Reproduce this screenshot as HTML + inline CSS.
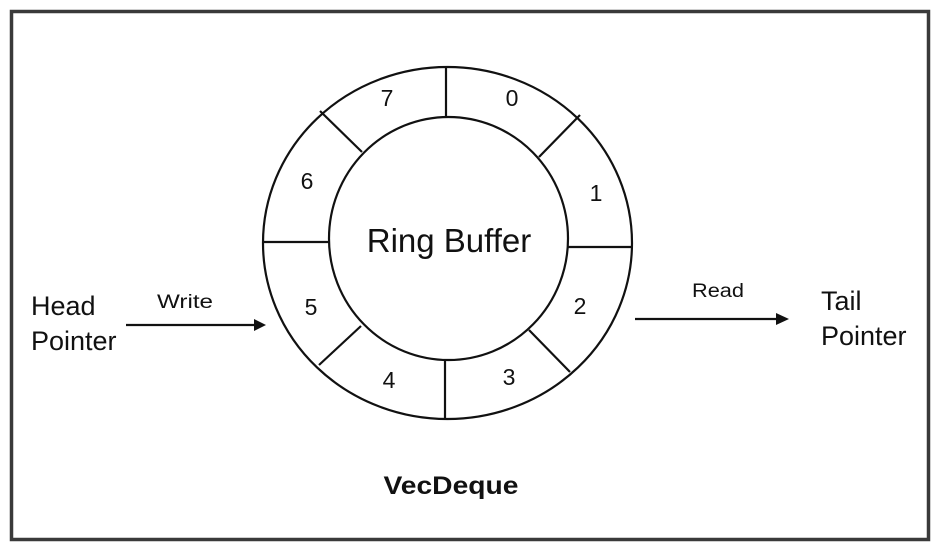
<!DOCTYPE html>
<html><head><meta charset="utf-8"><style>
html,body{margin:0;padding:0;background:#fff;}
svg{display:block;}
text{font-family:"Liberation Sans",Arial,sans-serif;fill:#111;}
</style></head><body>
<svg width="937" height="548" viewBox="0 0 937 548" xmlns="http://www.w3.org/2000/svg">
<rect x="11.5" y="11.5" width="917" height="528" fill="#fff" stroke="#3a3a3a" stroke-width="3.5"/>
<g fill="none" stroke="#111" stroke-width="2.2">
<ellipse cx="447.5" cy="243" rx="184.5" ry="176"/>
<ellipse cx="448.5" cy="238.5" rx="119.5" ry="121.5"/>
<line x1="446" y1="67" x2="446" y2="117"/>
<line x1="445" y1="360" x2="445" y2="419"/>
<line x1="263" y1="242" x2="329" y2="242"/>
<line x1="568" y1="247" x2="632" y2="247"/>
<line x1="320" y1="111" x2="362" y2="152"/>
<line x1="580" y1="115" x2="539" y2="157"/>
<line x1="319" y1="365" x2="361" y2="326"/>
<line x1="570" y1="372" x2="529" y2="330"/>
<line x1="126" y1="325" x2="256" y2="325"/>
<line x1="635" y1="319" x2="778" y2="319"/>
</g>
<polygon points="266,325 254,319 254,331" fill="#111"/>
<polygon points="789,319 776,313 776,325" fill="#111"/>
<g font-size="23" text-anchor="middle">
<text x="387" y="106">7</text>
<text x="512" y="106">0</text>
<text x="307" y="189">6</text>
<text x="596" y="201">1</text>
<text x="311" y="315">5</text>
<text x="580" y="314">2</text>
<text x="389" y="388">4</text>
<text x="509" y="385">3</text>
</g>
<text x="449" y="252" font-size="33" text-anchor="middle">Ring Buffer</text>
<text x="31" y="315" font-size="27">Head</text>
<text x="31" y="350" font-size="27">Pointer</text>
<text x="185" y="308" font-size="19" text-anchor="middle" textLength="56" lengthAdjust="spacingAndGlyphs">Write</text>
<text x="718" y="297" font-size="19" text-anchor="middle" textLength="52" lengthAdjust="spacingAndGlyphs">Read</text>
<text x="821" y="310" font-size="27">Tail</text>
<text x="821" y="345" font-size="27">Pointer</text>
<text x="451" y="494" font-size="25" font-weight="bold" text-anchor="middle" textLength="135" lengthAdjust="spacingAndGlyphs">VecDeque</text>
</svg>
</body></html>
